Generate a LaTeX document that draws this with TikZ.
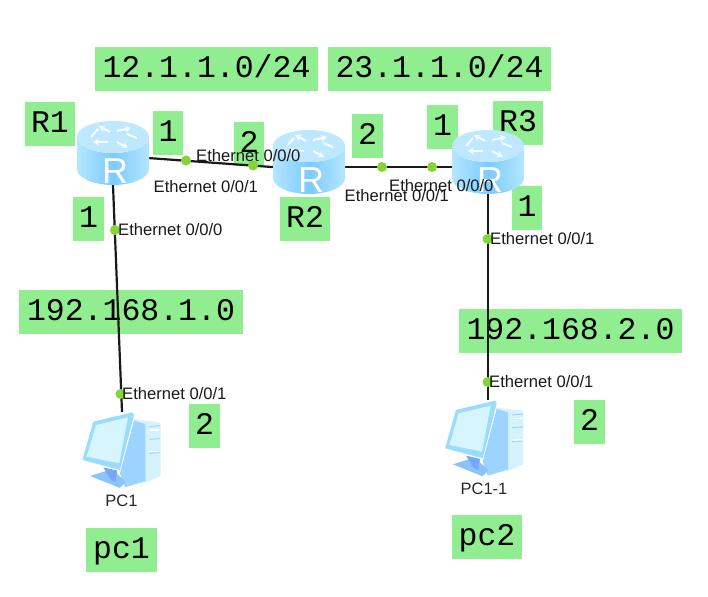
\documentclass[tikz,border=0pt]{standalone}
\usepackage{fontspec}
\setmainfont{Liberation Sans}
\newfontfamily\monof{Liberation Mono}
\usetikzlibrary{arrows.meta}
\definecolor{tagg}{HTML}{90EE90}
\definecolor{dotg}{HTML}{84D636}
\definecolor{rtop}{HTML}{BDE8FF}
\definecolor{rmid}{HTML}{7CCBFD}
\definecolor{rlite}{HTML}{B4E6FF}
\definecolor{pcmon}{HTML}{9ADCFF}
\definecolor{pcscr}{HTML}{D6F5FF}
\definecolor{pcside}{HTML}{9CD4FF}
\definecolor{pcfront}{HTML}{D6F1FF}
\definecolor{pcbase}{HTML}{8CC4FA}
\tikzset{
  x=1pt,y=-1pt,
  tag/.style={fill=tagg,draw=none,inner sep=0pt,anchor=center,font=\monof\fontsize{31.5}{31.5}\selectfont,text height=21pt,text depth=4pt,minimum height=44pt},
  port/.style={circle,fill=dotg,draw=none,inner sep=0pt,minimum size=10pt},
  iflabel/.style={anchor=west,inner sep=0pt,font=\fontsize{16.6}{16.6}\selectfont,text=black!90},
  devname/.style={anchor=center,inner sep=0pt,font=\fontsize{16.5}{16.5}\selectfont,text=black!85},
  slot/.style={draw=none,fill=none,inner sep=0pt,minimum width=72pt,minimum height=64pt},
  pcslot/.style={draw=none,fill=none,inner sep=0pt,minimum width=78pt,minimum height=76pt},
  link/.style={draw=black!90,line width=2.2pt},
  routerarrow/.style={draw=white!92!rtop,line width=2pt,-{Stealth[length=6pt,width=7pt]}},
  pics/routericon/.style={code={
    \shade[left color=rlite,right color=rlite,middle color=rmid]
      (-36,-16) -- (-36,16) arc[start angle=180,end angle=360,x radius=36,y radius=-16] -- (36,-16) arc[start angle=0,end angle=180,x radius=36,y radius=16] -- cycle;
    \fill[rtop] (0,-16) ellipse[x radius=36,y radius=16];
    \draw[routerarrow] (-3,-21) -- (-14,-27);
    \draw[routerarrow] (4,-22) -- (18,-25);
    \draw[routerarrow] (-5,-11) -- (-20,-11);
    \draw[routerarrow] (4,-11) -- (15,-5);
    \draw[draw=white!92!rtop,line width=2pt] (-15,-24) -- (-22,-16) (14,-19) -- (24,-15);
    \node[inner sep=0pt,text=white,font=\fontsize{36}{36}\selectfont] at (2,18) {R};
  }},
  pics/pcicon/.style={code={
    \begin{scope}[scale=0.3333]
    \fill[pcfront] (190,118) -- (262,126) -- (272,130) -- (272,288) -- (225,308) -- (190,290) -- cycle;
    \fill[pcside] (192,122) -- (226,132) -- (226,304) -- (165,322) -- (150,280) -- cycle;
    \fill[pcbase] (60,288) -- (125,268) -- (168,305) -- (150,324) -- cycle;
    \fill[pcbase!85!blue] (100,262) -- (142,272) -- (136,306) -- (120,296) -- cycle;
    \fill[pcmon] (187,97) -- (70,125) -- (37,240) -- (150,270) -- (192,105) -- cycle;
    \fill[pcscr] (174,112) -- (78,135) -- (50,230) -- (148,250) -- cycle;
    \draw[white,line width=1.5pt] (240,150) -- (268,150) (240,215) -- (268,215);
    \draw[pcside,line width=1pt] (238,140) -- (270,137) (238,220) -- (270,218) (238,178) -- (270,176);
    \end{scope}
  }},
}
\begin{document}
\begin{tikzpicture}
\useasboundingbox (0,0) rectangle (708,596);
% labels on green
\node[tag,minimum width=223pt] (net1) at (206.5,69.5) {12.1.1.0/24};
\node[tag,minimum width=223pt] (net2) at (439.5,69.5) {23.1.1.0/24};
\node[tag,minimum width=50pt] (nr1) at (50,124.5) {R1};
\node[tag,minimum width=30.5pt] (n1a) at (168,133) {1};
\node[tag,minimum width=30.5pt] (n2a) at (249,144) {2};
\node[tag,minimum width=50pt] (nr2) at (305,219) {R2};
\node[tag,minimum width=30.5pt] (n1b) at (88.5,219) {1};
\node[tag,minimum width=30.5pt] (n2b) at (367.5,136) {2};
\node[tag,minimum width=30.5pt] (n1c) at (442.5,127) {1};
\node[tag,minimum width=50pt] (nr3) at (518,123) {R3};
\node[tag,minimum width=30.5pt] (n1d) at (527,208) {1};
\node[tag,minimum width=224pt] (net3) at (131,312) {192.168.1.0};
\node[tag,minimum width=223pt] (net4) at (570.5,331) {192.168.2.0};
\node[tag,minimum width=30.5pt] (n2c) at (204.5,426) {2};
\node[tag,minimum width=30.5pt] (n2d) at (589.5,422) {2};
\node[tag,minimum width=71pt] (npc1) at (121.5,550) {pc1};
\node[tag,minimum width=70pt] (npc2) at (487,537) {pc2};
% device slots
\node[slot] (r1) at (113,153) {};
\node[slot] (r2) at (309,162) {};
\node[slot] (r3) at (488,162) {};
\node[pcslot] (pc1) at (122,450) {};
\node[pcslot] (pc2) at (488,438) {};
% connectors
\draw[link] (r1.-8) -- (r2.188);
\draw[link] (r2.-8) -- (r3.188);
\draw[link] (r1.south) -- (pc1.north);
\draw[link] (r3.south) -- (pc2.north);
% icons
\pic at (r1) {routericon};
\pic at (r2) {routericon};
\pic at (r3) {routericon};
\pic at (70,380) {pcicon};
\pic at (432.7,368.3) {pcicon};
% ports
\node[port] (p1) at (186,160.5) {};
\node[port] (p2) at (253,165.5) {};
\node[port] (p3) at (382,167) {};
\node[port] (p4) at (432,167) {};
\node[port] (p5) at (115,230) {};
\node[port] (p6) at (120.5,394) {};
\node[port] (p7) at (487.5,239) {};
\node[port] (p8) at (487.5,382) {};
% interface labels
\node[iflabel] (e1) at (196,156) {Ethernet 0/0/0};
\node[iflabel] (e2) at (153.5,187) {Ethernet 0/0/1};
\node[iflabel] (e3) at (118,230) {Ethernet 0/0/0};
\node[iflabel] (e4) at (122,394) {Ethernet 0/0/1};
\node[iflabel] (e5) at (389,186) {Ethernet 0/0/0};
\node[iflabel] (e6) at (344.5,196) {Ethernet 0/0/1};
\node[iflabel] (e7) at (490,239) {Ethernet 0/0/1};
\node[iflabel] (e8) at (489,382) {Ethernet 0/0/1};
\node[devname] (l1) at (121.5,501) {PC1};
\node[devname] (l2) at (484,489) {PC1-1};
\end{tikzpicture}
\end{document}
